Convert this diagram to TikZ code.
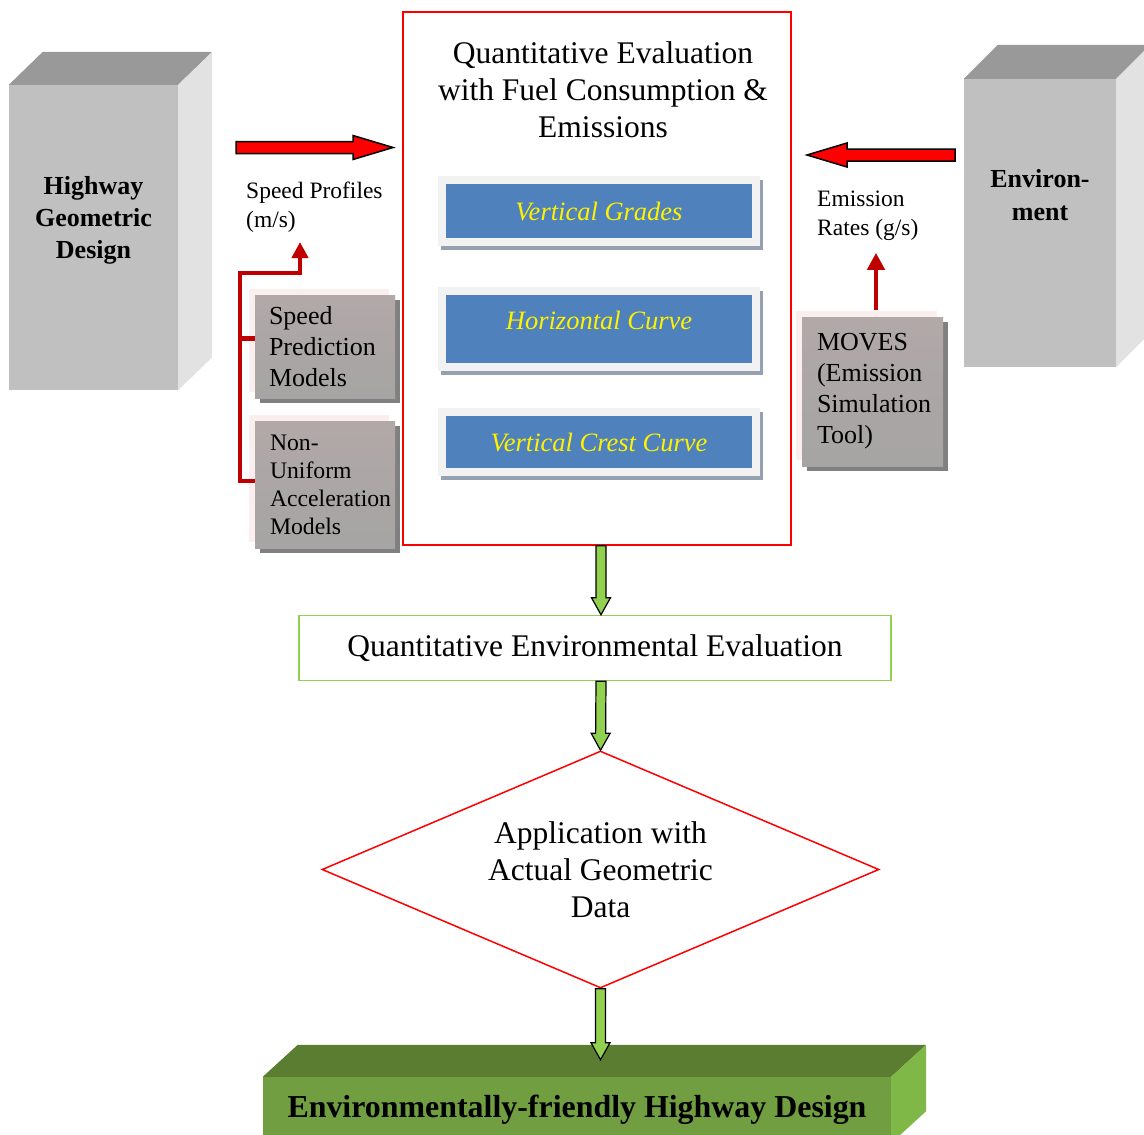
\documentclass[tikz,border=0pt]{standalone}
\usepackage{fontspec}
\setmainfont{Liberation Serif}
\usetikzlibrary{arrows.meta,positioning,calc,shapes.geometric,shadows}

\definecolor{boxred}{RGB}{255,0,0}
\definecolor{feedred}{RGB}{192,0,0}
\definecolor{lightgreen}{RGB}{146,208,80}
\definecolor{gradeblue}{RGB}{79,129,189}
\definecolor{framegray}{RGB}{242,242,242}
\definecolor{shadeblue}{RGB}{149,160,176}
\definecolor{modeltop}{RGB}{178,168,168}
\definecolor{modelbot}{RGB}{166,164,164}
\definecolor{modelshade}{RGB}{128,128,128}
\definecolor{glowpink}{RGB}{250,238,238}
\definecolor{slabfront}{RGB}{192,192,192}
\definecolor{slabtop}{RGB}{153,153,153}
\definecolor{slabside}{RGB}{226,226,226}
\definecolor{leaffront}{RGB}{112,158,64}
\definecolor{leaftop}{RGB}{90,125,50}
\definecolor{leafside}{RGB}{128,184,72}

% top and side faces of a block node
\newcommand{\cubefaces}[5]{%
  \fill[#4] (#1.north west) -- ++(#2,#3) -- ([shift={(#2,#3)}]#1.north east) -- (#1.north east) -- cycle;
  \fill[#5] (#1.north east) -- ++(#2,#3) -- ([shift={(#2,#3)}]#1.south east) -- (#1.south east) -- cycle;}

\begin{document}
\begin{tikzpicture}[x=1pt, y=1pt, >=Stealth,
    evalframe/.style={draw=boxred, line width=1.5pt, minimum width=388pt, minimum height=533pt},
    titletext/.style={align=center, inner sep=0pt, font=\fontsize{31.5}{37}\selectfont},
    gradebox/.style={draw=framegray, line width=8pt, fill=gradeblue, minimum width=314pt, inner sep=0pt, text=yellow,
        font=\fontsize{26.5}{32}\selectfont\itshape,
        general shadow={draw=shadeblue, fill=shadeblue, line width=8pt, shadow xshift=2.5pt, shadow yshift=-4pt}},
    envbox/.style={draw=lightgreen, line width=1.5pt, minimum width=592pt, minimum height=65pt, font=\fontsize{31.5}{37}\selectfont},
    decision/.style={draw=boxred, line width=1.5pt, diamond, aspect=2.35, minimum width=557pt, minimum height=237pt,
        inner sep=0pt, align=center, font=\fontsize{31.5}{37}\selectfont},
    slab/.style={fill=slabfront, inner sep=0pt},
    slabtext/.style={align=center, inner sep=0pt, font=\fontsize{26}{32}\selectfont\bfseries},
    leafslab/.style={fill=leaffront, minimum width=628pt, minimum height=66pt, inner sep=0pt, font=\fontsize{31.9}{38}\selectfont\bfseries},
    modelbox/.style={top color=modeltop, bottom color=modelbot, align=left, inner ysep=0pt,
        general shadow={fill=glowpink, shadow xshift=-6pt, shadow yshift=6pt},
        general shadow={fill=modelshade, shadow xshift=5pt, shadow yshift=-5pt}},
    flowtext/.style={align=left, inner sep=0pt, font=\fontsize{23.5}{28.5}\selectfont},
    blockarrow/.style n args={3}{to path={let \p1=($(\tikztotarget)-(\tikztostart)$), \n1={atan2(\y1,\x1)}, \n2={veclen(\x1,\y1)} in
        ($(\tikztostart)+(\n1+90:#1)$) -- ++(\n1:{\n2-#3}) -- ++(\n1+90:{#2-#1}) -- (\tikztotarget)
        -- ($(\tikztotarget)+(\n1+180:#3)+(\n1-90:#2)$) -- ++(\n1+90:{#2-#1}) -- ($(\tikztostart)+(\n1-90:#1)$) -- cycle}},
    redarrow/.style={blockarrow={6}{12}{40}, draw=black, line width=1.5pt, fill=boxred},
    greenarrow/.style={blockarrow={5}{9.5}{17}, draw=black, line width=1.2pt, fill=lightgreen},
    feed/.style={draw=feedred, line width=4.5pt}]
    \useasboundingbox (0,0) rectangle (1144,-1135);

    % Evaluation box with the three geometric elements
    \node[evalframe] (evalbox) at (597,-278.5) {};
    \node[titletext, below=30pt of evalbox.north, xshift=6pt] (evaltitle) {Quantitative Evaluation\\with Fuel Consumption \&\\Emissions};
    \node[gradebox, minimum height=62pt, below=165pt of evalbox.north, xshift=2pt] (grades) {Vertical Grades};
    \node[gradebox, minimum height=76pt, text depth=18pt, below=41pt of grades] (horizcurve) {Horizontal Curve};
    \node[gradebox, minimum height=60pt, below=37pt of horizcurve] (crestcurve) {Vertical Crest Curve};

    % Main column below
    \node[envbox, below=69pt of evalbox, xshift=-2pt] (qee) {Quantitative Environmental Evaluation};
    \node[decision, below=69pt of qee, xshift=5.5pt] (apply) {Application with\\Actual Geometric\\Data};
    \node[leafslab, below=88pt of apply, xshift=-23.5pt] (ecodesign) {Environmentally-friendly Highway Design};
    \cubefaces{ecodesign}{35}{32}{leaftop}{leafside}
    \coordinate (ecotop) at ([xshift=23.5pt, yshift=17pt]ecodesign.north);

    % Input blocks at both sides
    \node[slab, minimum width=169pt, minimum height=305pt] (hgd) at (93.5,-237.5) {};
    \cubefaces{hgd}{34}{33}{slabtop}{slabside}
    \node[slabtext] (hgdtext) at ([yshift=17pt]hgd.center) {Highway\\Geometric\\Design};
    \node[slab, minimum width=152pt, minimum height=288pt] (env) at (1040,-223) {};
    \cubefaces{env}{34}{34}{slabtop}{slabside}
    \node[slabtext, font=\fontsize{26}{33}\selectfont\bfseries] (envtext) at ([yshift=28pt]env.center) {Environ-\\ment};

    % Models and labels
    \node[modelbox, text width=112pt, inner xsep=14pt, minimum height=103pt, font=\fontsize{26}{31}\selectfont] (spm) at (325,-346.5) {Speed\\Prediction\\Models};
    \node[modelbox, text width=110pt, inner xsep=15pt, minimum height=127pt, font=\fontsize{23.7}{28}\selectfont, below=23pt of spm] (nua) {Non-\\Uniform\\\mbox{Acceleration}\\Models};
    \node[modelbox, text width=111pt, inner xsep=15pt, minimum height=149pt, font=\fontsize{26}{31}\selectfont] (moves) at (872.5,-391.5) {MOVES\\(Emission\\\mbox{Simulation}\\Tool)};
    \node[flowtext, anchor=north west] (spdlabel) at (246,-182) {Speed Profiles\\(m/s)};
    \node[flowtext, anchor=north west, font=\fontsize{23.5}{29}\selectfont] (erlabel) at (817,-191) {Emission\\Rates (g/s)};

    % Block arrows
    \coordinate (spdtail) at (236,-147.5);
    \coordinate (spdhead) at (393,-147.5);
    \coordinate (ertail) at (955,-155);
    \coordinate (erhead) at (807,-155);
    \draw[redarrow] (spdtail) to (spdhead);
    \draw[redarrow] (ertail) to (erhead);
    \draw[greenarrow] ([xshift=4pt]evalbox.south) to ([xshift=6pt]qee.north);
    \draw[greenarrow] ([xshift=6pt]qee.south) to (apply.north);
    \draw[greenarrow] (apply.south) to (ecotop);

    % Model outputs
    \coordinate (spdtip) at (300,-242);
    \draw[feed, -{Triangle[width=16pt,length=16pt]}] ([yshift=4pt]nua.west) -| (240,-273) -| (spdtip);
    \draw[feed] ([yshift=8pt]spm.west) -- ++(-15,0);
    \draw[feed, -{Triangle[width=17pt,length=17pt]}] ([xshift=3.5pt, yshift=7pt]moves.north) -- ++(0,57);
\end{tikzpicture}
\end{document}
